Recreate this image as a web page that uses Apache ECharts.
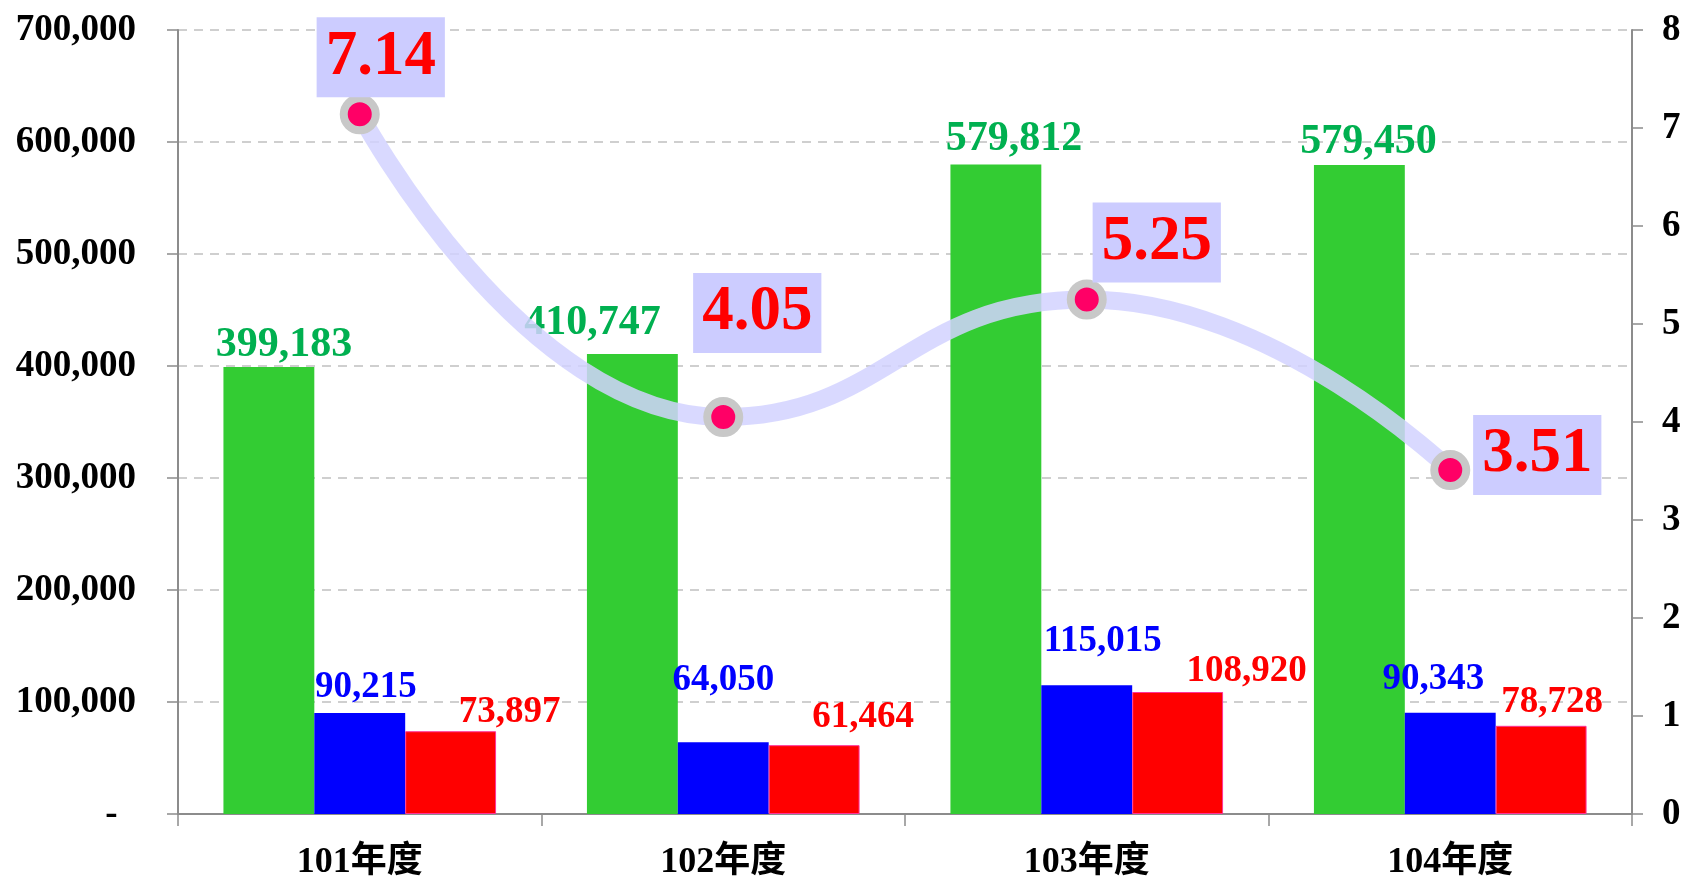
<!DOCTYPE html>
<html>
<head>
<meta charset="utf-8">
<script src="https://cdn.jsdelivr.net/npm/echarts@6/dist/echarts.min.js"></script>
<style>
html, body { margin: 0; padding: 0; background: #fff; }
#main { width: 1686px; height: 878px; }
</style>
</head>
<body>
<div id="main"></div>
<script>
var categories = ['101年度', '102年度', '103年度', '104年度'];
var greenValues = [399183, 410747, 579812, 579450];
var blueValues = [90215, 64050, 115015, 90343];
var redValues = [73897, 61464, 108920, 78728];
var rateValues = [7.14, 4.05, 5.25, 3.51];

// 標籤位移 (px)
var greenOffsets = [[15, 4], [-40, -5], [18, 1], [9, 3]];
var blueOffsets = [[6, -2], [0, -38], [16, -20], [-17, -10]];
var redOffsets = [[59, 5], [49, -4], [69, 3], [11, 0]];
var rateOffsets = [[21, -57], [34, -104], [70, -57], [87, -15]];

var serif = '"Liberation Serif", "Times New Roman", "Noto Sans CJK TC", serif';

function fmt(v) {
    return String(v).replace(/\B(?=(\d{3})+(?!\d))/g, ',');
}

function barData(values, offsets) {
    return values.map(function (v, i) {
        return { value: v, label: { offset: offsets[i] } };
    });
}

var myChart = echarts.init(document.getElementById('main'));
myChart.setOption({
    animation: false,
    grid: { left: 178, right: 54, top: 30, bottom: 64, outerBoundsMode: 'none', containLabel: false },
    xAxis: {
        type: 'category',
        data: categories,
        axisLine: { lineStyle: { color: '#8c8c8c', width: 2 } },
        axisTick: { show: true, length: 12, lineStyle: { color: '#8c8c8c', width: 1.5 } },
        axisLabel: { color: '#000', fontFamily: serif, fontWeight: 'bold', fontSize: 36, margin: 31 }
    },
    yAxis: [{
        type: 'value',
        min: 0,
        max: 700000,
        interval: 100000,
        axisLine: { show: true, lineStyle: { color: '#8c8c8c', width: 2 } },
        axisTick: { show: true, length: 11, lineStyle: { color: '#8c8c8c', width: 1.5 } },
        splitLine: { lineStyle: { color: '#c0c0c0', type: [9, 7], width: 1.5 } },
        axisLabel: {
            color: '#000', fontFamily: serif, fontWeight: 'bold', fontSize: 37, margin: 42,
            formatter: function (v) { return v === 0 ? '-  ' : fmt(v); }
        }
    }, {
        type: 'value',
        min: 0,
        max: 8,
        interval: 1,
        position: 'right',
        axisLine: { show: true, lineStyle: { color: '#8c8c8c', width: 2 } },
        axisTick: { show: true, length: 11, lineStyle: { color: '#8c8c8c', width: 1.5 } },
        splitLine: { show: false },
        axisLabel: { color: '#000', fontFamily: serif, fontWeight: 'bold', fontSize: 37, margin: 30 }
    }],
    series: [{
        name: 'green',
        type: 'bar',
        barGap: 0,
        barCategoryGap: '25%',
        data: barData(greenValues, greenOffsets),
        itemStyle: { color: '#33CC33' },
        label: {
            show: true, position: 'top', color: '#00B050', fontFamily: serif,
            fontWeight: 'bold', fontSize: 42, formatter: function (p) { return fmt(p.value); }
        }
    }, {
        name: 'blue',
        type: 'bar',
        data: barData(blueValues, blueOffsets),
        itemStyle: { color: '#0000FF' },
        label: {
            show: true, position: 'top', color: '#0000FF', fontFamily: serif,
            fontWeight: 'bold', fontSize: 37, formatter: function (p) { return fmt(p.value); }
        }
    }, {
        name: 'red',
        type: 'bar',
        data: barData(redValues, redOffsets),
        itemStyle: { color: '#FF0000', borderColor: '#FF3399', borderWidth: 1 },
        label: {
            show: true, position: 'top', color: '#FF0000', fontFamily: serif,
            fontWeight: 'bold', fontSize: 37, formatter: function (p) { return fmt(p.value); }
        }
    }, {
        name: 'rate',
        type: 'line',
        yAxisIndex: 1,
        smooth: 0.5,
        z: 5,
        symbol: 'circle',
        symbolSize: 32,
        data: rateValues.map(function (v, i) {
            return { value: v, label: { offset: rateOffsets[i] } };
        }),
        lineStyle: { color: 'rgba(210,210,255,0.85)', width: 18 },
        itemStyle: { color: '#FF0066', borderColor: '#C8C8C8', borderWidth: 8 },
        label: {
            show: true, position: 'inside', color: '#FF0000', fontFamily: serif,
            fontWeight: 'bold', fontSize: 63, backgroundColor: '#CCCCFF',
            padding: [9, 9, 8, 9], formatter: function (p) { return p.value.toFixed(2); }
        }
    }]
});
</script>
</body>
</html>
